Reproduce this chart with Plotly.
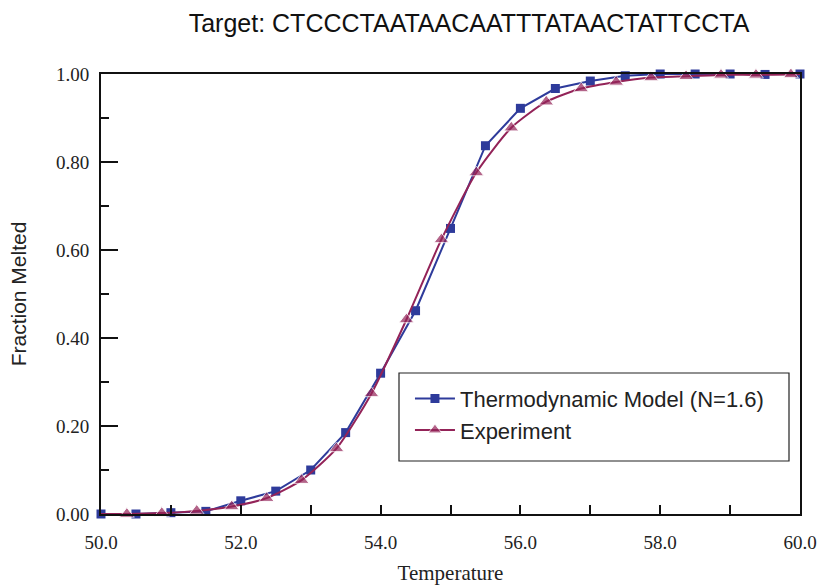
import plotly.graph_objects as go

title_text = "Target: CTCCCTAATAACAATTTATAACTATTCCTA"

model_x = [50.0, 50.5, 51.0, 51.5, 52.0, 52.5, 53.0, 53.5, 54.0, 54.5, 55.0,
           55.5, 56.0, 56.5, 57.0, 57.5, 58.0, 58.5, 59.0, 59.5, 60.0]
model_y = [0.000, 0.000, 0.003, 0.006, 0.030, 0.052, 0.100, 0.185, 0.320, 0.462, 0.649,
           0.837, 0.922, 0.967, 0.984, 0.996, 1.000, 1.000, 1.000, 0.999, 1.000]

exp_x = [50.0, 50.37, 50.87, 51.37, 51.87, 52.37, 52.87, 53.37, 53.87, 54.37, 54.87,
         55.37, 55.87, 56.37, 56.87, 57.37, 57.87, 58.37, 58.87, 59.37, 59.87, 60.0]
exp_y = [0.000, 0.000, 0.002, 0.007, 0.017, 0.036, 0.077, 0.149, 0.274, 0.442, 0.624,
         0.776, 0.878, 0.937, 0.967, 0.982, 0.992, 0.995, 0.998, 0.998, 0.999, 1.000]
exp_marker = [0] + [13] * 20 + [0]

blue = "#2E3B9B"
maroon = "#932358"
serif = "Liberation Serif, Times New Roman, serif"
sans = "Liberation Sans, Arial, sans-serif"

fig = go.Figure()
fig.add_trace(go.Scatter(
    x=model_x, y=model_y, mode="lines+markers", name="Thermodynamic Model (N=1.6)",
    line=dict(color=blue, width=2),
    marker=dict(symbol="square", size=9, color=blue),
    cliponaxis=False,
))
fig.add_trace(go.Scatter(
    x=exp_x, y=exp_y, mode="lines+markers", name="Experiment",
    line=dict(color=maroon, width=2, shape="spline", smoothing=0.6),
    marker=dict(symbol="triangle-up", size=exp_marker, color=maroon),
    cliponaxis=False,
))

fig.update_layout(
    width=817, height=588,
    margin=dict(l=101, r=17, t=74, b=74, autoexpand=False),
    paper_bgcolor="white", plot_bgcolor="white",
    title=dict(text=title_text, x=0.5265, xref="paper", xanchor="center",
               y=1 - 23 / 588, yref="container", yanchor="middle",
               font=dict(family=sans, size=25, color="#111")),
    showlegend=True,
    legend=dict(x=0.442, y=0.31, xanchor="left", yanchor="top",
                bgcolor="rgba(0,0,0,0)", borderwidth=0,
                font=dict(family=sans, size=22, color="#222"),
                tracegroupgap=0, itemwidth=40),
    shapes=[dict(type="rect", xref="paper", yref="paper",
                 x0=(399 - 101) / 699, x1=(789 - 101) / 699,
                 y0=(514 - 461) / 440, y1=(514 - 373) / 440,
                 line=dict(color="#222", width=1.2), fillcolor="white", layer="below")],
    xaxis=dict(
        range=[50, 60], dtick=2, tick0=50, tickformat=".1f",
        ticks="inside", ticklen=9, tickwidth=1.5, tickcolor="#111",
        minor=dict(dtick=1, ticks="inside", ticklen=9, tickwidth=1.5, tickcolor="#111"),
        showline=True, linecolor="#111", linewidth=2, mirror=True,
        showgrid=False, zeroline=False, automargin=False,
        tickfont=dict(family=serif, size=19, color="#222"),
        ticklabelstandoff=10,
        title=dict(text="Temperature", font=dict(family=serif, size=21, color="#222"), standoff=14),
    ),
    yaxis=dict(
        range=[0, 1], dtick=0.2, tick0=0, tickformat=".2f",
        ticks="inside", ticklen=17, tickwidth=1.5, tickcolor="#111",
        minor=dict(dtick=0.1, ticks="inside", ticklen=8, tickwidth=1.5, tickcolor="#111"),
        showline=True, linecolor="#111", linewidth=2, mirror=True,
        showgrid=False, zeroline=False, automargin=False,
        tickfont=dict(family=serif, size=19, color="#222"),
        ticklabelstandoff=6,
        title=dict(text="Fraction Melted", font=dict(family=sans, size=21, color="#222"), standoff=24),
    ),
)

fig.write_html("out.html")
